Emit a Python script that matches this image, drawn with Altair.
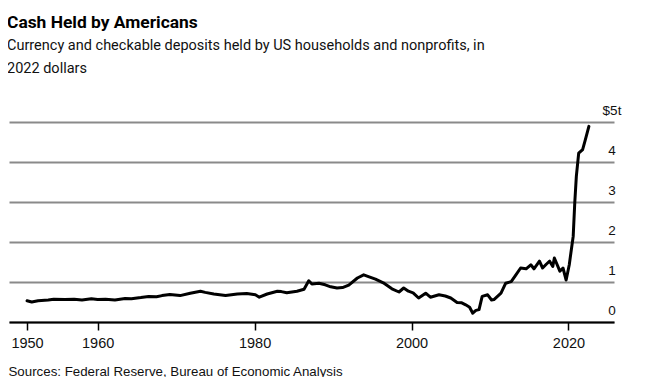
import altair as alt
import pandas as pd

years = [1951.0, 1951.6, 1952.4, 1953.7, 1954.4, 1955.8, 1957.0, 1958.0, 1959.2, 1960.0,
         1961.0, 1962.2, 1963.5, 1964.3, 1965.5, 1966.5, 1967.5, 1968.2,
         1969.2, 1970.5, 1971.8, 1973.1, 1973.7, 1974.8, 1976.3, 1977.8, 1979.0, 1980.1, 1980.6,
         1981.6, 1982.9, 1983.4, 1984.1, 1985.4, 1986.3, 1986.9, 1987.3, 1988.2, 1989.0, 1989.7,
         1990.5, 1991.2, 1992.0, 1993.1, 1993.9, 1994.6, 1995.4, 1996.4, 1997.5, 1998.4,
         1999.0, 1999.6, 2000.2, 2000.9, 2001.8, 2002.4, 2003.5, 2004.3, 2005.0, 2005.8,
         2006.4, 2006.9, 2007.4, 2007.8, 2008.2, 2008.6, 2009.0, 2009.7, 2010.2, 2010.5,
         2011.4, 2012.0, 2012.7, 2013.3, 2013.9, 2014.6, 2015.2, 2015.6, 2016.3, 2016.7,
         2017.2, 2017.6, 2018.0, 2018.2, 2018.9, 2019.3, 2019.7, 2020.1, 2020.3, 2020.6,
         2020.8, 2021.0, 2021.3, 2021.8, 2022.1, 2022.6]
cash_trillions = [0.53, 0.50, 0.53, 0.55, 0.57, 0.56, 0.57, 0.55, 0.58, 0.56,
                  0.57, 0.55, 0.59, 0.58, 0.61, 0.64, 0.63, 0.66,
                  0.69, 0.66, 0.72, 0.77, 0.74, 0.70, 0.66, 0.70, 0.71, 0.68, 0.62,
                  0.70, 0.77, 0.76, 0.73, 0.77, 0.82, 1.03, 0.95, 0.97, 0.93, 0.88,
                  0.85, 0.86, 0.92, 1.10, 1.18, 1.13, 1.07, 0.98, 0.83, 0.75,
                  0.85, 0.77, 0.73, 0.60, 0.72, 0.62, 0.68, 0.65, 0.60, 0.49,
                  0.48, 0.43, 0.37, 0.22, 0.29, 0.31, 0.64, 0.68, 0.55, 0.56,
                  0.72, 0.97, 1.01, 1.18, 1.35, 1.33, 1.43, 1.33, 1.52, 1.35,
                  1.45, 1.52, 1.39, 1.60, 1.27, 1.35, 1.05, 1.43, 1.72, 2.14,
                  2.98, 3.64, 4.22, 4.31, 4.52, 4.89]

x_ticks = [1951, 1960, 1980, 2000, 2020]
y_ticks = [0, 1, 2, 3, 4, 5]

df = pd.DataFrame({"year": years, "value": cash_trillions})

FONT = "Roboto, Liberation Sans, Arial"
FONT_AX = "Liberation Sans, Arial"

chart = alt.Chart(df).mark_line(
    color="#000000", strokeWidth=3, strokeJoin="round", strokeCap="round"
).encode(
    x=alt.X(
        "year:Q",
        scale=alt.Scale(domain=[1948.7, 2025.8], nice=False, zero=False),
        axis=alt.Axis(
            values=x_ticks,
            labelExpr="datum.value == 1951 ? '1950' : format(datum.value, 'd')",
            title="Sources: Federal Reserve, Bureau of Economic Analysis",
            titleFont=FONT_AX,
            titleFontSize=13.3,
            titleFontWeight="normal",
            titleColor="#111111",
            titleAnchor="start",
            titleAlign="left",
            titleBaseline="middle",
            titleX=-1,
            titleY=49,
            grid=False,
            domainColor="#000000",
            domainWidth=2,
            tickColor="#000000",
            tickWidth=1.5,
            tickSize=8,
            labelFont=FONT_AX,
            labelFontSize=14.5,
            labelColor="#111111",
            labelPadding=6,
            labelFlush=False,
            zindex=1,
        ),
    ),
    y=alt.Y(
        "value:Q",
        scale=alt.Scale(domain=[0, 5], nice=False),
        axis=alt.Axis(
            orient="right",
            values=y_ticks,
            labelExpr="datum.value == 5 ? '$5t' : format(datum.value, 'd')",
            title=None,
            domain=False,
            ticks=False,
            tickSize=0,
            grid=True,
            gridColor="#8a8a8a",
            gridWidth=2,
            labelFont=FONT_AX,
            labelFontSize=13.5,
            labelColor="#111111",
            labelAlign="center",
            labelBaseline="middle",
            labelPadding=-2.5,
            labelOffset=-12,
        ),
    ),
).properties(
    width=605,
    height=200,
    title=alt.TitleParams(
        text="Cash Held by Americans",
        subtitle=["Currency and checkable deposits held by US households and nonprofits, in",
                  "2022 dollars"],
        anchor="start",
        font=FONT,
        fontSize=17.4,
        fontWeight="bold",
        color="#000000",
        subtitleFont=FONT,
        subtitleFontSize=14.5,
        subtitleColor="#111111",
        subtitleLineHeight=23,
        subtitlePadding=7,
        offset=28,
        dx=-1,
    ),
    autosize=alt.AutoSizeParams(type="none"),
    padding={"left": 1, "top": 114, "right": 24, "bottom": 55},
).configure_view(stroke=None)

chart.save("out.html", embed_options={"renderer": "svg", "actions": False})
